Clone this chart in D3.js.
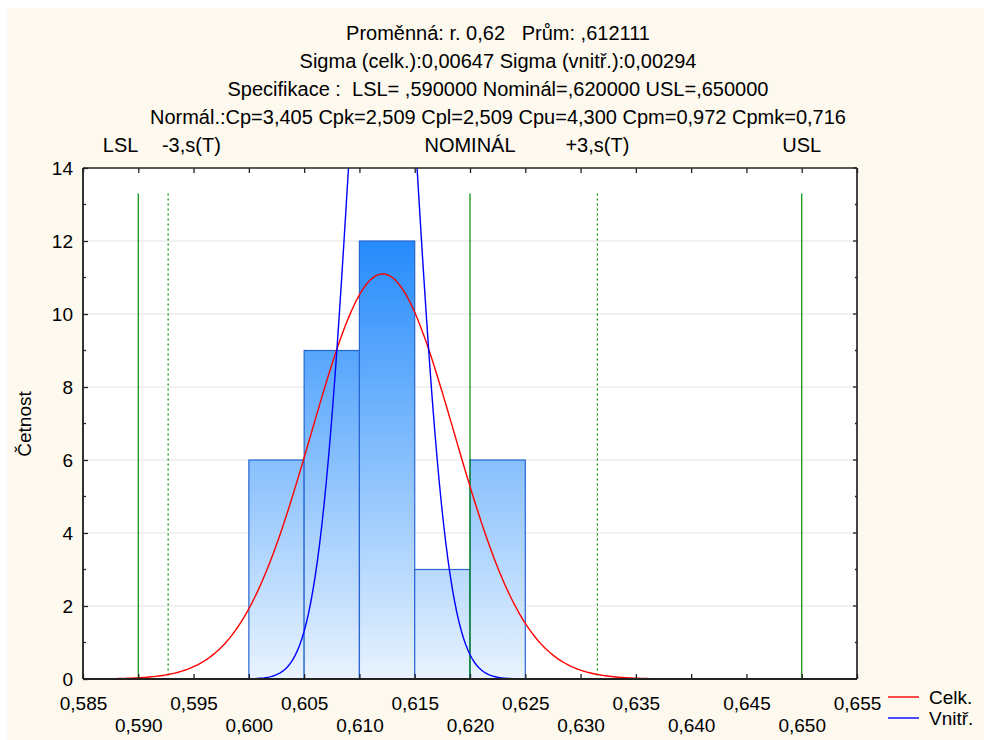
<!DOCTYPE html>
<html>
<head>
<meta charset="utf-8">
<script src="https://cdn.jsdelivr.net/npm/d3@7"></script>
<style>
  html, body { margin: 0; padding: 0; background: #ffffff; }
  svg text { font-family: "Liberation Sans", Arial, sans-serif; fill: #000; white-space: pre; }
</style>
</head>
<body>
<svg id="chart" width="984" height="740"></svg>
<script>
// Histogram bins (lower edge, upper edge) and counts
const binStarts = [0.600, 0.605, 0.610, 0.615, 0.620];
const binEnds   = [0.605, 0.610, 0.615, 0.620, 0.625];
const counts    = [6, 9, 12, 3, 6];

// Process statistics
const mean = 0.612111;
const sigmaTotal = 0.00647;
const sigmaWithin = 0.00294;
const lsl = 0.590, nominal = 0.620, usl = 0.650;

// Reference lines drawn over the plot
const refNames  = ["LSL", "-3,s(T)", "NOMINÁL", "+3,s(T)", "USL"];
const refValues = [lsl, mean - 3 * sigmaTotal, nominal, mean + 3 * sigmaTotal, usl];
const refDotted = [false, true, false, true, false];

// Axis ticks
const xTicks = [0.585, 0.590, 0.595, 0.600, 0.605, 0.610, 0.615, 0.620, 0.625, 0.630, 0.635, 0.640, 0.645, 0.650, 0.655];
const yTicks = [0, 2, 4, 6, 8, 10, 12, 14];
const yMinor = [1, 3, 5, 7, 9, 11, 13];

const titleLines = [
  "Proměnná: r. 0,62   Prům: ,612111",
  "Sigma (celk.):0,00647 Sigma (vnitř.):0,00294",
  "Specifikace :  LSL= ,590000 Nominál=,620000 USL=,650000",
  "Normál.:Cp=3,405 Cpk=2,509 Cpl=2,509 Cpu=4,300 Cpm=0,972 Cpmk=0,716"
];
const legendNames  = ["Celk.", "Vnitř."];
const legendColors = ["#ff0000", "#0000ff"];

const svg = d3.select("#chart");
const W = 984, H = 740;
const plot = { left: 83, right: 857, top: 168, bottom: 679 };

// page background
svg.append("rect").attr("x", 7).attr("y", 8).attr("width", W - 7).attr("height", H - 8).attr("fill", "#fef9ef");

const x = d3.scaleLinear().domain([0.585, 0.655]).range([plot.left, plot.right]);
const y = d3.scaleLinear().domain([0, 14]).range([plot.bottom, plot.top]);

const defs = svg.append("defs");
defs.append("clipPath").attr("id", "plotClip")
  .append("rect").attr("x", plot.left).attr("y", plot.top)
  .attr("width", plot.right - plot.left).attr("height", plot.bottom - plot.top);

const grad = defs.append("linearGradient").attr("id", "barGrad")
  .attr("gradientUnits", "userSpaceOnUse")
  .attr("x1", 0).attr("x2", 0).attr("y1", y(12)).attr("y2", y(0));
grad.append("stop").attr("offset", "0%").attr("stop-color", "#258bfc");
grad.append("stop").attr("offset", "100%").attr("stop-color", "#e9f3fe");

// plot area
svg.append("rect").attr("x", plot.left).attr("y", plot.top)
  .attr("width", plot.right - plot.left).attr("height", plot.bottom - plot.top)
  .attr("fill", "#ffffff");

// horizontal grid
svg.append("g").selectAll("line").data(yTicks.filter(d => d > 0 && d < 14)).join("line")
  .attr("x1", plot.left).attr("x2", plot.right)
  .attr("y1", d => y(d)).attr("y2", d => y(d))
  .attr("stroke", "#e4e4e4").attr("stroke-width", 1.2);

// bars
svg.append("g").selectAll("rect").data(counts).join("rect")
  .attr("x", (d, i) => x(binStarts[i]))
  .attr("width", (d, i) => x(binEnds[i]) - x(binStarts[i]))
  .attr("y", d => y(d))
  .attr("height", d => y(0) - y(d))
  .attr("fill", "url(#barGrad)")
  .attr("stroke", "#2766d2").attr("stroke-width", 1.2);

// reference lines
const refG = svg.append("g");
refValues.forEach((v, i) => {
  refG.append("line")
    .attr("x1", x(v)).attr("x2", x(v))
    .attr("y1", y(13.3)).attr("y2", plot.bottom)
    .attr("stroke", "#008a00").attr("stroke-width", 1.2)
    .attr("stroke-dasharray", refDotted[i] ? "2,3" : null);
});

// fitted normal curves, scaled to the histogram counts
const nTotal = d3.sum(counts);
const binWidth = binEnds[0] - binStarts[0];
function normalCurve(sigma) {
  const xs = d3.range(0.585, 0.6551, 0.0002);
  return xs.map(v => [v, nTotal * binWidth / (sigma * Math.sqrt(2 * Math.PI)) *
    Math.exp(-0.5 * Math.pow((v - mean) / sigma, 2))]);
}
const line = d3.line().x(d => x(d[0])).y(d => y(d[1]));
const curves = svg.append("g").attr("clip-path", "url(#plotClip)");
curves.append("path").datum(normalCurve(sigmaTotal)).attr("d", line)
  .attr("fill", "none").attr("stroke", legendColors[0]).attr("stroke-width", 1.4);
curves.append("path").datum(normalCurve(sigmaWithin)).attr("d", line)
  .attr("fill", "none").attr("stroke", legendColors[1]).attr("stroke-width", 1.4);

// frame
svg.append("line").attr("x1", plot.left).attr("x2", plot.right).attr("y1", plot.top).attr("y2", plot.top)
  .attr("stroke", "#222").attr("stroke-width", 1.5);
svg.append("line").attr("x1", plot.left).attr("x2", plot.right).attr("y1", plot.bottom).attr("y2", plot.bottom)
  .attr("stroke", "#222").attr("stroke-width", 2);
svg.append("line").attr("x1", plot.left).attr("x2", plot.left).attr("y1", plot.top).attr("y2", plot.bottom)
  .attr("stroke", "#333").attr("stroke-width", 2);
svg.append("line").attr("x1", plot.right).attr("x2", plot.right).attr("y1", plot.top).attr("y2", plot.bottom)
  .attr("stroke", "#444").attr("stroke-width", 2);

// x axis (bottom) with inward ticks and staggered labels
const fmt = d => d3.format(".3f")(d).replace(".", ",");
const xAxis = d3.axisBottom(x).tickValues(xTicks).tickSize(-5).tickFormat(fmt).tickPadding(14);
const gx = svg.append("g").attr("transform", `translate(0,${plot.bottom})`).call(xAxis);
gx.select(".domain").remove();
gx.selectAll(".tick line").attr("stroke", "#222").attr("stroke-width", 1.3);
gx.selectAll(".tick text")
  .style("font-size", "19px")
  .attr("y", (d, i) => i % 2 === 0 ? 18 : 40);

// top ticks
const gxt = svg.append("g").attr("transform", `translate(0,${plot.top})`)
  .call(d3.axisTop(x).tickValues(xTicks).tickSize(-5).tickFormat(""));
gxt.select(".domain").remove();
gxt.selectAll(".tick line").attr("stroke", "#222").attr("stroke-width", 1.3);

// y axis
const gy = svg.append("g").attr("transform", `translate(${plot.left},0)`)
  .call(d3.axisLeft(y).tickValues(yTicks).tickSize(-5).tickPadding(10));
gy.select(".domain").remove();
gy.selectAll(".tick line").attr("stroke", "#222").attr("stroke-width", 1.3);
gy.selectAll(".tick text").style("font-size", "19px");
svg.append("g").selectAll("line").data(yMinor).join("line")
  .attr("x1", plot.left).attr("x2", plot.left + 3)
  .attr("y1", d => y(d)).attr("y2", d => y(d))
  .attr("stroke", "#222").attr("stroke-width", 1.3);

// right side ticks
svg.append("g").selectAll("line").data(yTicks).join("line")
  .attr("x1", plot.right).attr("x2", plot.right - 4)
  .attr("y1", d => y(d)).attr("y2", d => y(d))
  .attr("stroke", "#222").attr("stroke-width", 1.3);
svg.append("g").selectAll("line").data(yMinor).join("line")
  .attr("x1", plot.right).attr("x2", plot.right - 2)
  .attr("y1", d => y(d)).attr("y2", d => y(d))
  .attr("stroke", "#222").attr("stroke-width", 1.3);

// y label
svg.append("text")
  .attr("transform", `translate(31,424) rotate(-90)`)
  .attr("text-anchor", "middle")
  .style("font-size", "19px")
  .text("Četnost");

// title block
svg.append("g").selectAll("text").data(titleLines).join("text")
  .attr("x", 498)
  .attr("y", (d, i) => 40 + i * 28)
  .attr("text-anchor", "middle")
  .attr("xml:space", "preserve")
  .style("font-size", "20px")
  .text(d => d);

// reference line labels
const refLabelX = [lsl - 0.0016, mean - 3 * sigmaTotal + 0.0021, nominal, mean + 3 * sigmaTotal, usl];
svg.append("g").selectAll("text").data(refNames).join("text")
  .attr("x", (d, i) => x(refLabelX[i]))
  .attr("y", 152)
  .attr("text-anchor", "middle")
  .style("font-size", "20px")
  .text(d => d);

// legend
const lg = svg.append("g");
legendNames.forEach((name, i) => {
  const ly = 697 + i * 21;
  lg.append("line").attr("x1", 888).attr("x2", 919).attr("y1", ly).attr("y2", ly)
    .attr("stroke", legendColors[i]).attr("stroke-width", 1.4);
  lg.append("text").attr("x", 929).attr("y", ly + 6.5)
    .style("font-size", "19px").text(name);
});
</script>
</body>
</html>
